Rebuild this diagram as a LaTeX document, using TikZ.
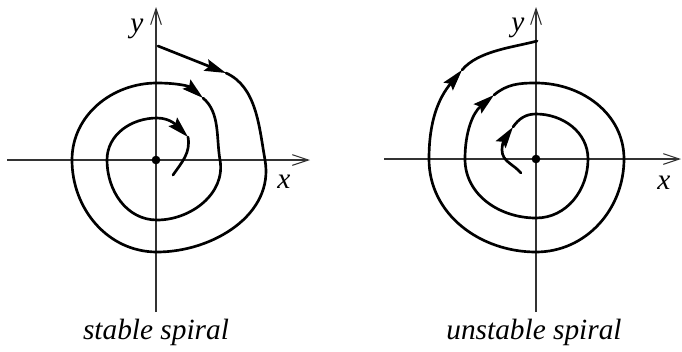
\documentclass[tikz,border=0pt]{standalone}
\usepackage{fontspec}
\setmainfont{Liberation Serif}
\usetikzlibrary{arrows.meta}

\tikzset{
  axis/.style={line width=0.8pt, black!80, -{Straight Barb[length=12pt,width=8pt,line width=0.8pt]}},
  orbit/.style={line width=2pt, line join=round, line cap=round},
  tipped/.style={orbit, -{Stealth[length=16pt,width=9pt,inset=2.5pt]}},
  fixpt/.style={circle, fill, inner sep=0pt, minimum size=6.5pt},
  lbl/.style={font=\fontsize{22}{26}\selectfont\itshape, inner sep=0pt},
}

\begin{document}
\begin{tikzpicture}[x=0.75pt,y=0.75pt]
\useasboundingbox (0,0) rectangle (682,-351);

% stable spiral
\begin{scope}[shift={(156,-160)}]
\coordinate (xl1) at (-149,0);
\coordinate (xr1) at (154,0);
\coordinate (yb1) at (0,-152);
\coordinate (yt1) at (0,153);
\draw[axis] (xl1) -- (xr1);
\draw[axis] (yb1) -- (yt1);
\node[fixpt] (o1) at (0,0) {};
\node[lbl] (x1) at (128,-22) {x};
\node[lbl] (y1) at (-19,131) {y};
\coordinate (s0) at (2,114);
\coordinate (s1) at (70,87);
\coordinate (s2) at (47,62);
\coordinate (s3) at (32,23);
\coordinate (s4) at (17,-15);
\draw[tipped] (s0) -- (s1);
\draw[tipped] (s1)
  to[out=-24,in=100,looseness=0.9] (109,0)
  to[out=-80,in=0] (1,-92)
  to[out=180,in=-90] (-84,0)
  to[out=90,in=180] (1,77)
  to[out=0,in=140] (s2);
\draw[tipped] (s2)
  to[out=-40,in=100,looseness=0.9] (64,0)
  to[out=-80,in=0] (1,-60)
  to[out=180,in=-90] (-49,0)
  to[out=90,in=180] (1,42)
  to[out=0,in=135] (s3);
\draw[orbit] (s3) to[out=-80,in=55] (s4);
\node[lbl] (cap1) at (0,-172) {stable spiral};
\end{scope}

% unstable spiral
\begin{scope}[shift={(536,-159)}]
\coordinate (xl2) at (-152,0);
\coordinate (xr2) at (145,0);
\coordinate (yb2) at (0,-153);
\coordinate (yt2) at (0,152);
\draw[axis] (xl2) -- (xr2);
\draw[axis] (yb2) -- (yt2);
\node[fixpt] (o2) at (0,0) {};
\node[lbl] (x2) at (128,-24) {x};
\node[lbl] (y2) at (-18,131) {y};
\coordinate (u0) at (-15,-14);
\coordinate (u1) at (-23,32);
\coordinate (u2) at (-42,64);
\coordinate (u3) at (-74,89);
\coordinate (u4) at (1,118);
\draw[tipped] (u0)
  to[out=130,in=-90] (-34,9)
  to[out=90,in=235] (u1);
\draw[tipped] (u1)
  to[out=55,in=180] (0,45)
  to[out=0,in=90] (52,0)
  to[out=-90,in=0] (0,-59)
  to[out=180,in=-90] (-71,0)
  to[out=90,in=220] (u2);
\draw[tipped] (u2)
  to[out=40,in=180] (0,76)
  to[out=0,in=90] (88,0)
  to[out=-90,in=0] (0,-93)
  to[out=180,in=-90] (-107,0)
  to[out=90,in=-130] (u3);
\draw[orbit] (u3) to[out=50,in=195,looseness=0.8] (u4);
\node[lbl] (cap2) at (-2,-173) {unstable spiral};
\end{scope}
\end{tikzpicture}
\end{document}
